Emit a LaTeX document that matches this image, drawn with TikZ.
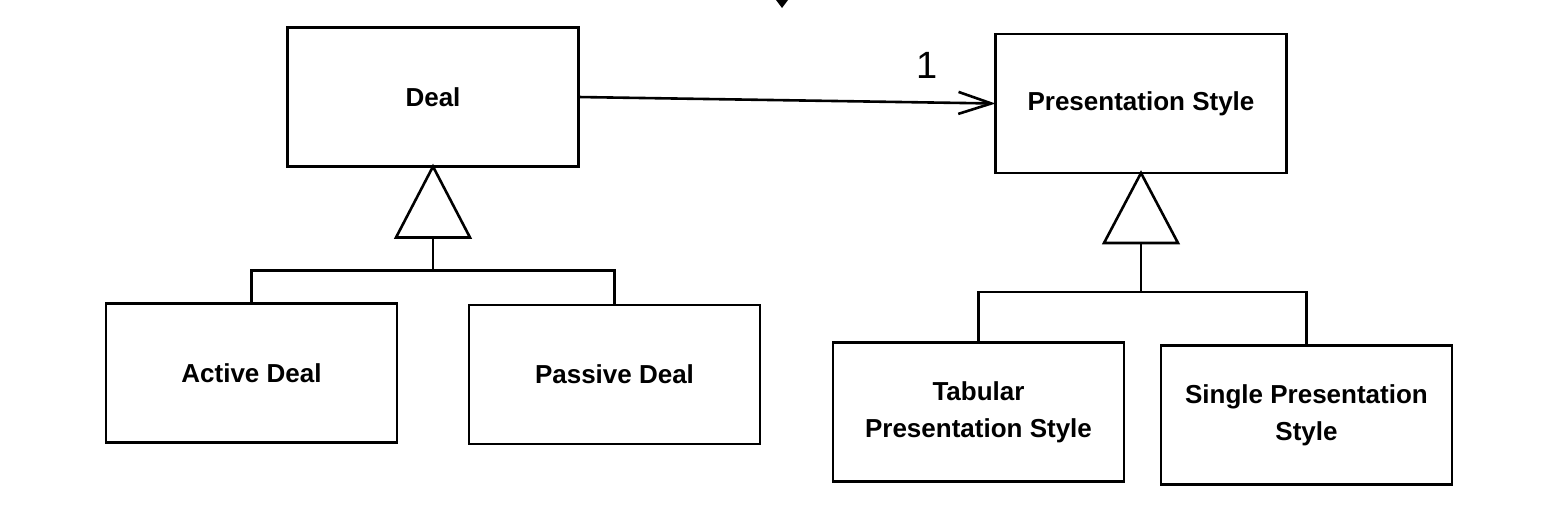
\documentclass[tikz,border=0pt]{standalone}
\usepackage{fontspec}
\setmainfont{Liberation Sans}
\usetikzlibrary{positioning,arrows.meta}
\tikzset{
classbox/.style = {rectangle, minimum width=#1, minimum height=69.5pt, inner sep=2pt, outer sep=0pt,
  font=\fontsize{13}{18.5}\selectfont\bfseries, align=center},
classbox/.default = 145.5pt % width of a class box
}
\tikzset{assoc/.style={-{Straight Barb[length=16.5pt,width=11pt]}}}
\tikzset{mult/.style={font=\fontsize{19}{19}\selectfont}}

\begin{document}
\begin{tikzpicture}[x=0.5pt, y=-0.5pt, line width=1.3pt]
  \useasboundingbox (0,0) rectangle (1548,516);
  % classes
  \node [classbox, draw] (deal) at (433,97) {Deal};
  \node [classbox, draw] (pres) at (1141,103.5) {Presentation Style};
  \node [classbox, draw] (active) at (251.5,373) {Active Deal};
  \node [classbox, draw] (passive) at (614.5,374.5) {Passive Deal};
  \node [classbox, draw] (tabular) at (978.5,412) {Tabular\\Presentation Style};
  \node [classbox, draw] (single) at (1306.5,415) {Single Presentation\\Style};
  % association
  \draw [assoc] (deal.east) -- node [mult, pos=0.835, above=8pt] {1} (pres.west);
  % generalization of deal
  \draw (deal.south) -- ++(37,71) -- ++(-74,0) -- cycle;
  \coordinate (dealbase) at ([yshift=-35.5pt]deal.south);
  \draw (dealbase) -- ++(0,33) coordinate (dealjoin);
  \draw (active.north) |- (dealjoin) -| (passive.north);
  % generalization of presentation style
  \draw (pres.south) -- ++(37,70) -- ++(-74,0) -- cycle;
  \coordinate (presbase) at ([yshift=-35pt]pres.south);
  \draw (presbase) -- ++(0,49) coordinate (presjoin);
  \draw (tabular.north) |- (presjoin) -| (single.north);
  % cut-off tip at the top
  \fill (776,0) -- (788,0) -- (782,8) -- cycle;
\end{tikzpicture}
\end{document}
